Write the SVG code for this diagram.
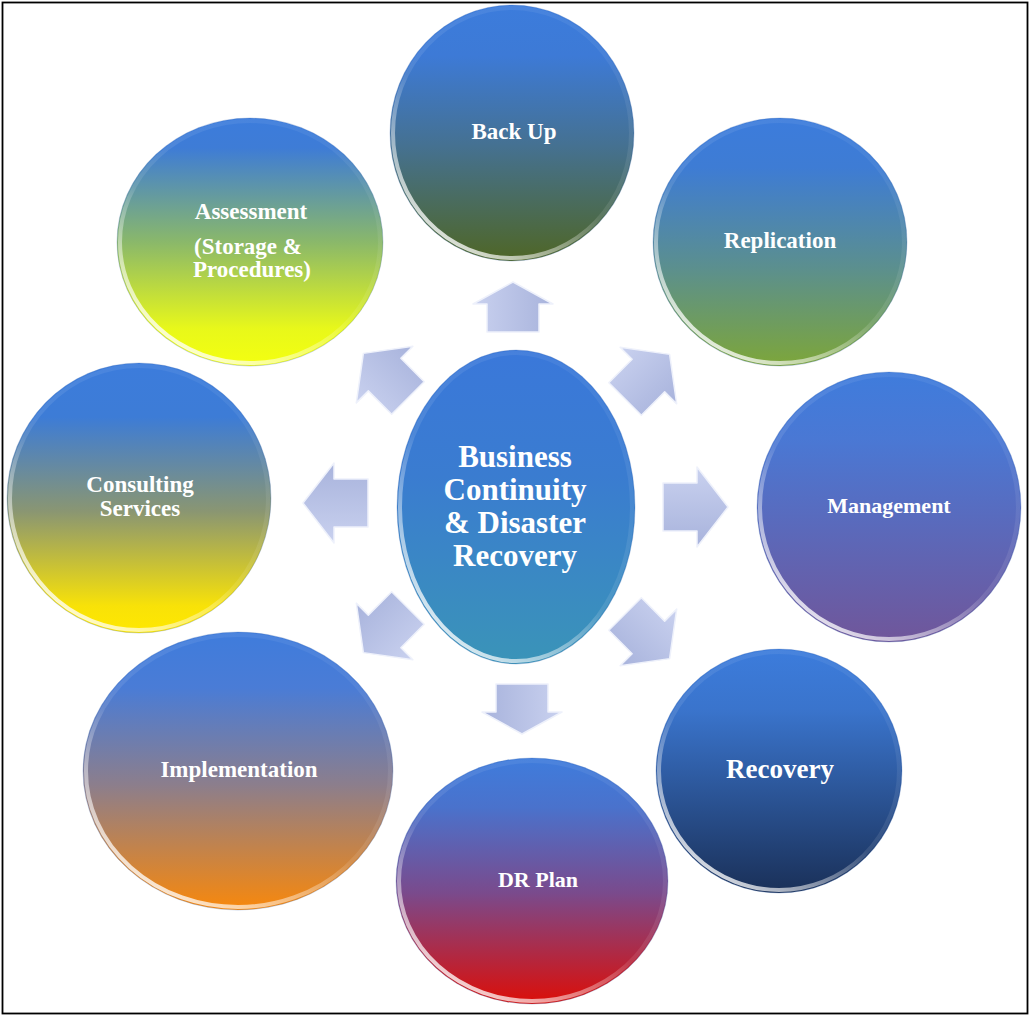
<svg xmlns="http://www.w3.org/2000/svg" width="1030" height="1016" viewBox="0 0 1030 1016">
<defs>
<style>
.t{font-family:"Liberation Serif","Times New Roman",serif;font-weight:bold;fill:#ffffff;text-anchor:middle;font-size:23px}
.rim{fill:none;stroke:url(#rim);stroke-width:4}
.edge{fill:none;stroke:#5a7fb8;stroke-opacity:0.3;stroke-width:1}
.arr{fill:url(#ag);stroke:#eef1fb;stroke-width:1.5;stroke-linejoin:round}
</style>
<linearGradient id="rim" x1="0.85" y1="0" x2="0.15" y2="1">
<stop offset="0" stop-color="#ffffff" stop-opacity="0.05"/>
<stop offset="0.55" stop-color="#ffffff" stop-opacity="0.1"/>
<stop offset="1" stop-color="#ffffff" stop-opacity="0.95"/>
</linearGradient>
<linearGradient id="ag" x1="0" y1="0" x2="0" y2="1">
<stop offset="0" stop-color="#c9d1ef"/>
<stop offset="1" stop-color="#a8b3dc"/>
</linearGradient>
<linearGradient id="gBack" x1="0" y1="0" x2="0" y2="1">
<stop offset="0" stop-color="#3c7cdc"/><stop offset="0.2" stop-color="#3d7ad6"/><stop offset="0.55" stop-color="#457191"/><stop offset="1" stop-color="#4f6626"/>
</linearGradient>
<linearGradient id="gRep" x1="0" y1="0" x2="0" y2="1">
<stop offset="0" stop-color="#3c7cdc"/><stop offset="0.2" stop-color="#3e7cd4"/><stop offset="0.6" stop-color="#5b8f8f"/><stop offset="1" stop-color="#7da63a"/>
</linearGradient>
<linearGradient id="gMan" x1="0" y1="0" x2="0" y2="1">
<stop offset="0" stop-color="#3f7cdc"/><stop offset="0.25" stop-color="#4a78d4"/><stop offset="1" stop-color="#70569a"/>
</linearGradient>
<linearGradient id="gRec" x1="0" y1="0" x2="0" y2="1">
<stop offset="0" stop-color="#3c7cdc"/><stop offset="0.25" stop-color="#3a74cc"/><stop offset="1" stop-color="#1a3058"/>
</linearGradient>
<linearGradient id="gDR" x1="0" y1="0" x2="0" y2="1">
<stop offset="0" stop-color="#3f7cdc"/><stop offset="0.2" stop-color="#4a72cc"/><stop offset="0.55" stop-color="#7a4a8c"/><stop offset="1" stop-color="#dc0e08"/>
</linearGradient>
<linearGradient id="gImp" x1="0" y1="0" x2="0" y2="1">
<stop offset="0" stop-color="#3f7cdc"/><stop offset="0.2" stop-color="#4a7cd6"/><stop offset="0.55" stop-color="#8c7e8c"/><stop offset="1" stop-color="#f8880c"/>
</linearGradient>
<linearGradient id="gCon" x1="0" y1="0" x2="0" y2="1">
<stop offset="0" stop-color="#3c7cdc"/><stop offset="0.2" stop-color="#3d7cd6"/><stop offset="0.55" stop-color="#8a9672"/><stop offset="0.9" stop-color="#f8e208"/><stop offset="1" stop-color="#ffe800"/>
</linearGradient>
<linearGradient id="gAss" x1="0" y1="0" x2="0" y2="1">
<stop offset="0" stop-color="#3c7cdc"/><stop offset="0.12" stop-color="#3e7cd6"/><stop offset="0.5" stop-color="#8ab86a"/><stop offset="0.85" stop-color="#e8f81a"/><stop offset="1" stop-color="#f4ff10"/>
</linearGradient>
<linearGradient id="gCen" x1="0" y1="0" x2="0" y2="1">
<stop offset="0" stop-color="#3a78da"/><stop offset="0.4" stop-color="#3a7cd0"/><stop offset="1" stop-color="#3a94b8"/>
</linearGradient>
<path id="arrH" d="M-32,-24 H2 V-40 L33,0 L2,40 V24 H-32 Z"/>
<path id="arrV" d="M-25,-26 H3 V-40 L25,0 L3,40 V26 H-25 Z"/>
<path id="arrD" d="M-31,-23 H2 V-40 L32,0 L2,40 V23 H-31 Z"/>
</defs>
<rect x="2.5" y="2.5" width="1025" height="1011" fill="#ffffff" stroke="#000000" stroke-width="1.8"/>

<g id="connectors">
<use href="#arrV" class="arr" transform="translate(513,307) rotate(-90)"/>
<use href="#arrD" class="arr" transform="translate(647,377) rotate(-45)"/>
<use href="#arrH" class="arr" transform="translate(695,507)"/>
<use href="#arrD" class="arr" transform="translate(647,636) rotate(45)"/>
<use href="#arrV" class="arr" transform="translate(522,709) rotate(90)"/>
<use href="#arrD" class="arr" transform="translate(386,630) rotate(135)"/>
<use href="#arrH" class="arr" transform="translate(336,503) rotate(180)"/>
<use href="#arrD" class="arr" transform="translate(386,376) rotate(-135)"/>
</g>

<g id="node-center">
<ellipse cx="516" cy="507" rx="119" ry="157" fill="url(#gCen)"/>
<ellipse cx="516" cy="507" rx="119" ry="157" class="edge"/>
<ellipse cx="516" cy="507" rx="116" ry="154" class="rim"/>
<text class="t" style="font-size:31px" x="515" y="467">Business</text>
<text class="t" style="font-size:31px" x="515" y="500">Continuity</text>
<text class="t" style="font-size:31px" x="515" y="533">&amp; Disaster</text>
<text class="t" style="font-size:31px" x="515" y="566">Recovery</text>
</g>

<g id="node-backup">
<ellipse cx="512" cy="133" rx="122" ry="128" fill="url(#gBack)"/>
<ellipse cx="512" cy="133" rx="122" ry="128" class="edge"/>
<ellipse cx="512" cy="133" rx="119" ry="125" class="rim"/>
<text class="t" x="514" y="139">Back Up</text>
</g>

<g id="node-replication">
<ellipse cx="780" cy="242" rx="127" ry="124" fill="url(#gRep)"/>
<ellipse cx="780" cy="242" rx="127" ry="124" class="edge"/>
<ellipse cx="780" cy="242" rx="124" ry="121" class="rim"/>
<text class="t" x="780" y="248">Replication</text>
</g>

<g id="node-management">
<ellipse cx="889" cy="507" rx="132" ry="135" fill="url(#gMan)"/>
<ellipse cx="889" cy="507" rx="132" ry="135" class="edge"/>
<ellipse cx="889" cy="507" rx="129" ry="132" class="rim"/>
<text class="t" style="font-size:22px" x="889" y="513">Management</text>
</g>

<g id="node-recovery">
<ellipse cx="779" cy="771" rx="123" ry="122" fill="url(#gRec)"/>
<ellipse cx="779" cy="771" rx="123" ry="122" class="edge"/>
<ellipse cx="779" cy="771" rx="120" ry="119" class="rim"/>
<text class="t" style="font-size:27px" x="780" y="778">Recovery</text>
</g>

<g id="node-drplan">
<ellipse cx="532" cy="881" rx="136" ry="123" fill="url(#gDR)"/>
<ellipse cx="532" cy="881" rx="136" ry="123" class="edge"/>
<ellipse cx="532" cy="881" rx="133" ry="120" class="rim"/>
<text class="t" style="font-size:22px" x="538" y="887">DR Plan</text>
</g>

<g id="node-implementation">
<ellipse cx="238" cy="771" rx="155" ry="139" fill="url(#gImp)"/>
<ellipse cx="238" cy="771" rx="155" ry="139" class="edge"/>
<ellipse cx="238" cy="771" rx="152" ry="136" class="rim"/>
<text class="t" x="239" y="777">Implementation</text>
</g>

<g id="node-consulting">
<ellipse cx="139" cy="498" rx="132" ry="135" fill="url(#gCon)"/>
<ellipse cx="139" cy="498" rx="132" ry="135" class="edge"/>
<ellipse cx="139" cy="498" rx="129" ry="132" class="rim"/>
<text class="t" x="140" y="492">Consulting</text>
<text class="t" x="140" y="516">Services</text>
</g>

<g id="node-assessment">
<ellipse cx="250" cy="242" rx="133" ry="124" fill="url(#gAss)"/>
<ellipse cx="250" cy="242" rx="133" ry="124" class="edge"/>
<ellipse cx="250" cy="242" rx="130" ry="121" class="rim"/>
<text class="t" x="251" y="219">Assessment</text>
<text class="t" x="248" y="254">(Storage &amp;</text>
<text class="t" x="252" y="277">Procedures)</text>
</g>
</svg>
